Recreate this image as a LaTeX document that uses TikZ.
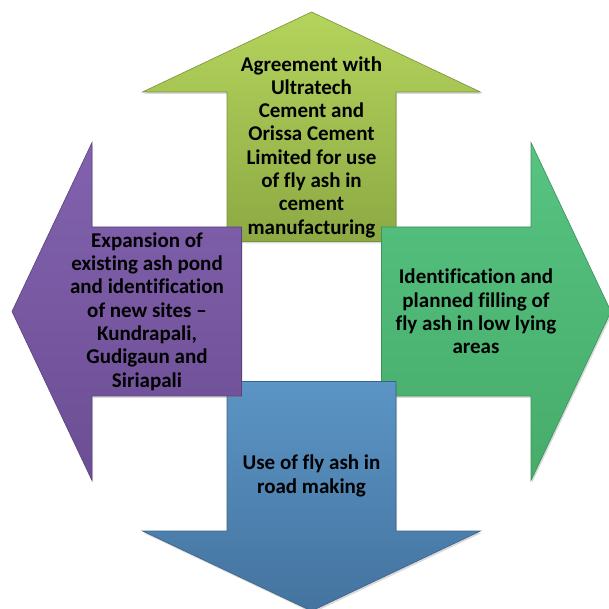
\documentclass[tikz,border=0pt]{standalone}
\usepackage{fontspec}
\setmainfont{Carlito}[Ligatures=NoCommon]
\usetikzlibrary{shadows}
\definecolor{uptop}{HTML}{B4D45C}
\definecolor{upbot}{HTML}{8DA944}
\definecolor{righttop}{HTML}{57C382}
\definecolor{rightbot}{HTML}{46AC6A}
\definecolor{downtop}{HTML}{5B95C5}
\definecolor{downbot}{HTML}{44739F}
\definecolor{lefttop}{HTML}{8262AE}
\definecolor{leftbot}{HTML}{6C4E94}
\begin{document}
\begin{tikzpicture}[x=1pt,y=1pt]
	\def \shaftin{70}
	\def \shafthw{84.5}
	\def \headbase{219.5}
	\def \headhw{169}
	\def \tipr{299.5}
	\def \textr{164.5}
	\tikzstyle{arr}=[line width=0.6pt,line join=miter,drop shadow={opacity=0.3,shadow xshift=1.2pt,shadow yshift=-2pt}]
	\tikzstyle{up-arr}=[arr,draw=upbot!85!black,top color=uptop,bottom color=upbot]
	\tikzstyle{right-arr}=[arr,draw=rightbot!85!black,top color=righttop,bottom color=rightbot]
	\tikzstyle{down-arr}=[arr,draw=downbot!85!black,top color=downtop,bottom color=downbot]
	\tikzstyle{left-arr}=[arr,draw=leftbot!85!black,top color=lefttop,bottom color=leftbot]
	\tikzstyle{label}=[align=center,inner sep=0pt,font=\fontsize{21}{23.3}\selectfont\bfseries]
	\useasboundingbox (-311.5,-297.5) rectangle (296.5,311.5);

	% up arrow
	\path[up-arr] (-\shafthw,\shaftin) -- (-\shafthw,\headbase) -- (-\headhw,\headbase) -- (0,\tipr)
		-- (\headhw,\headbase) -- (\shafthw,\headbase) -- (\shafthw,\shaftin) -- cycle;
	% right arrow
	\path[right-arr] (\shaftin,\shafthw) -- (\headbase,\shafthw) -- (\headbase,\headhw) -- (\tipr,0)
		-- (\headbase,-\headhw) -- (\headbase,-\shafthw) -- (\shaftin,-\shafthw) -- cycle;
	% down arrow
	\path[down-arr] (-\shafthw,-\shaftin) -- (-\shafthw,-\headbase) -- (-\headhw,-\headbase) -- (0,-\tipr)
		-- (\headhw,-\headbase) -- (\shafthw,-\headbase) -- (\shafthw,-\shaftin) -- cycle;
	% left arrow
	\path[left-arr] (-\shaftin,\shafthw) -- (-\headbase,\shafthw) -- (-\headbase,\headhw) -- (-\tipr,0)
		-- (-\headbase,-\headhw) -- (-\headbase,-\shafthw) -- (-\shaftin,-\shafthw) -- cycle;

	% labels
	\node[label] (cement)	at (0,\textr)	{Agreement with\\Ultratech\\Cement and\\Orissa Cement\\Limited for use\\of fly ash in\\cement\\manufacturing};
	\node[label] (lowland)	at (\textr,0)	{Identification and\\planned filling of\\fly ash in low lying\\areas};
	\node[label] (road)	at (0,-\textr)	{Use of fly ash in\\road making};
	\node[label] (pond)	at (-\textr,0)	{Expansion of\\existing ash pond\\and identification\\of new sites --\\Kundrapali,\\Gudigaun and\\Siriapali};
\end{tikzpicture}
\end{document}
